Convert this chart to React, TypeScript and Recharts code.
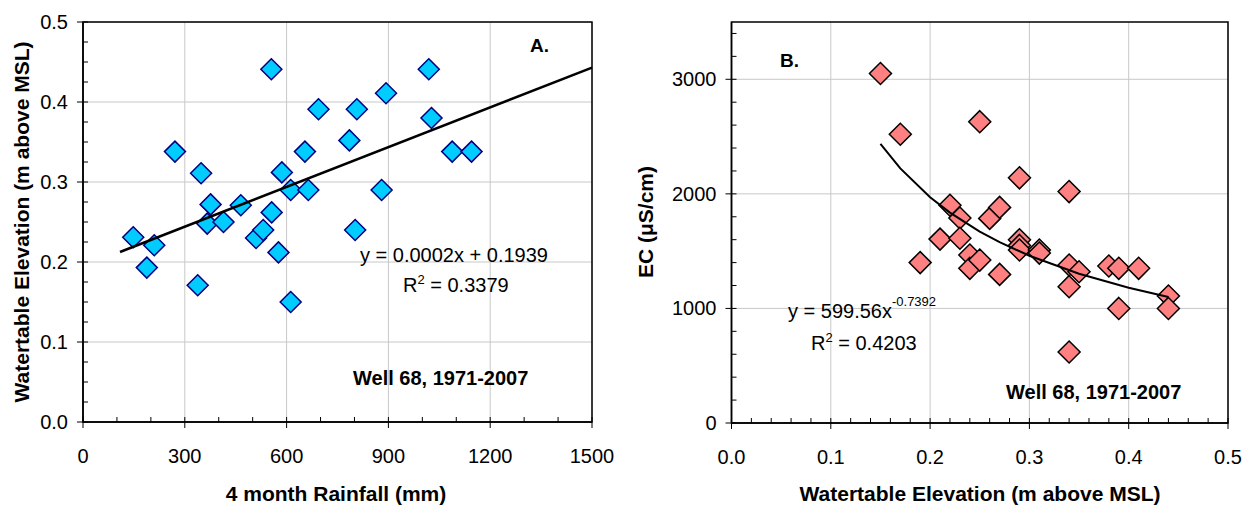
import React from 'react';
import { ScatterChart, Scatter, XAxis, YAxis, CartesianGrid, ReferenceArea } from 'recharts';

// Panel A: 4 month rainfall (mm) vs watertable elevation (m above MSL)
const rainfallA = [148, 210, 188, 271, 338, 348, 376, 366, 414, 465, 510, 531, 555, 556, 576, 586, 612, 612, 654, 664, 694, 785, 802, 807, 880, 893, 1019, 1027, 1088, 1145];
const elevationA = [0.231, 0.221, 0.193, 0.338, 0.171, 0.311, 0.272, 0.248, 0.25, 0.271, 0.23, 0.24, 0.441, 0.262, 0.212, 0.312, 0.29, 0.15, 0.338, 0.29, 0.391, 0.352, 0.24, 0.391, 0.29, 0.411, 0.441, 0.38, 0.338, 0.338];
const trendAX = [109, 1500];
const trendAY = [0.2125, 0.443];

// Panel B: watertable elevation vs EC (uS/cm)
const elevationB = [0.15, 0.17, 0.19, 0.21, 0.22, 0.23, 0.23, 0.24, 0.24, 0.25, 0.25, 0.26, 0.27, 0.27, 0.29, 0.29, 0.29, 0.29, 0.31, 0.31, 0.34, 0.34, 0.34, 0.34, 0.35, 0.38, 0.39, 0.41, 0.39, 0.44, 0.44];
const ecB = [3050, 2520, 1400, 1605, 1900, 1790, 1612, 1466, 1350, 1422, 2630, 1786, 1882, 1297, 2140, 1600, 1550, 1510, 1510, 1483, 2020, 1379, 1190, 620, 1320, 1370, 1350, 1350, 1000, 1108, 1000];
const trendBX = [0.15, 0.17, 0.2, 0.22, 0.25, 0.27, 0.3, 0.35, 0.4, 0.44];
const trendBY = [2437, 2222, 1970, 1836, 1670, 1578, 1460, 1303, 1180, 1100];

// tick values (minor + major)
const ticksAX = [0, 100, 200, 300, 400, 500, 600, 700, 800, 900, 1000, 1100, 1200, 1300, 1400, 1500];
const majorAX = [0, 300, 600, 900, 1200, 1500];
const ticksAY = [0, 0.025, 0.05, 0.075, 0.1, 0.125, 0.15, 0.175, 0.2, 0.225, 0.25, 0.275, 0.3, 0.325, 0.35, 0.375, 0.4, 0.425, 0.45, 0.475, 0.5];
const majorAY = [0, 0.1, 0.2, 0.3, 0.4, 0.5];
const ticksBX = [0, 0.02, 0.04, 0.06, 0.08, 0.1, 0.12, 0.14, 0.16, 0.18, 0.2, 0.22, 0.24, 0.26, 0.28, 0.3, 0.32, 0.34, 0.36, 0.38, 0.4, 0.42, 0.44, 0.46, 0.48, 0.5];
const majorBX = [0, 0.1, 0.2, 0.3, 0.4, 0.5];
const ticksBY = [0, 200, 400, 600, 800, 1000, 1200, 1400, 1600, 1800, 2000, 2200, 2400, 2600, 2800, 3000, 3200, 3400];
const majorBY = [0, 1000, 2000, 3000];

const dataA = rainfallA.map((x, i) => ({ x, y: elevationA[i] }));
const lineA = trendAX.map((x, i) => ({ x, y: trendAY[i] }));
const dataB = elevationB.map((x, i) => ({ x, y: ecB[i] }));
const lineB = trendBX.map((x, i) => ({ x, y: trendBY[i] }));

const FONT = "'Liberation Sans', Arial, sans-serif";
const GRID = '#c8c8c8';

const isIn = (list: number[], v: number) => list.some(m => Math.abs(m - v) < 1e-9);

const makeXTick = (majors: number[], fmt: (v: number) => string) => (props: any) => {
  const { x, y, payload } = props;
  const major = isIn(majors, payload.value);
  return (
    <g>
      <line x1={x} x2={x} y1={y - 5} y2={major ? y + 6 : y} stroke="#000" strokeWidth={1} />
      {major && (
        <text x={x} y={y + 41} textAnchor="middle" fontSize={20} fill="#000">{fmt(payload.value)}</text>
      )}
    </g>
  );
};

const makeYTick = (majors: number[], fmt: (v: number) => string) => (props: any) => {
  const { x, y, payload } = props;
  const major = isIn(majors, payload.value);
  return (
    <g>
      <line x1={major ? x - 6 : x} x2={x + 5} y1={y} y2={y} stroke="#000" strokeWidth={1} />
      {major && (
        <text x={x - 15} y={y + 7} textAnchor="end" fontSize={20} fill="#000">{fmt(payload.value)}</text>
      )}
    </g>
  );
};

const diamond = (fill: string, stroke: string, r: number) => (props: any) => {
  const { cx, cy } = props;
  return (
    <polygon
      points={`${cx},${cy - r} ${cx + r},${cy} ${cx},${cy + r} ${cx - r},${cy}`}
      fill={fill}
      stroke={stroke}
      strokeWidth={1.5}
    />
  );
};

const noDot = () => <g />;

export default function App() {
  return (
    <div style={{ position: 'absolute', left: 0, top: 0, width: 1250, height: 507, background: '#fff', fontFamily: FONT }}>
      {/* Panel A */}
      <div style={{ position: 'absolute', left: 0, top: 0 }}>
        <ScatterChart width={620} height={507} margin={{ top: 22, right: 28, bottom: 0, left: 0 }}>
          <CartesianGrid stroke={GRID} strokeWidth={1} verticalValues={majorAX} horizontalValues={majorAY} />
          <XAxis type="number" dataKey="x" domain={[0, 1500]} ticks={ticksAX} interval={0} height={85}
            tickSize={0} tickMargin={0} tickLine={false} axisLine={{ stroke: '#000', strokeWidth: 1.5 }}
            tick={makeXTick(majorAX, v => String(v))} />
          <YAxis type="number" dataKey="y" domain={[0, 0.5]} ticks={ticksAY} interval={0} width={83}
            tickSize={0} tickMargin={0} tickLine={false} axisLine={{ stroke: '#000', strokeWidth: 1.5 }}
            tick={makeYTick(majorAY, v => v.toFixed(1))} />
          <ReferenceArea x1={0} x2={1500} y1={0} y2={0.5} fill="none" stroke="#000" strokeWidth={1.5} />
          <Scatter data={dataA} shape={diamond('#00CCFF', '#000080', 10.5)} isAnimationActive={false} />
          <Scatter data={lineA} shape={noDot} line={{ stroke: '#000', strokeWidth: 2.5 }} lineType="joint" isAnimationActive={false} />
        </ScatterChart>
      </div>

      {/* Panel B */}
      <div style={{ position: 'absolute', left: 620, top: 0 }}>
        <ScatterChart width={630} height={507} margin={{ top: 22, right: 22, bottom: 0, left: 0 }}>
          <CartesianGrid stroke={GRID} strokeWidth={1} verticalValues={majorBX} horizontalValues={majorBY} />
          <XAxis type="number" dataKey="x" domain={[0, 0.5]} ticks={ticksBX} interval={0} height={84}
            tickSize={0} tickMargin={0} tickLine={false} axisLine={{ stroke: '#000', strokeWidth: 1.5 }}
            tick={makeXTick(majorBX, v => v.toFixed(1))} />
          <YAxis type="number" dataKey="y" domain={[0, 3500]} ticks={ticksBY} interval={0} width={111.5}
            tickSize={0} tickMargin={0} tickLine={false} axisLine={{ stroke: '#000', strokeWidth: 1.5 }}
            tick={makeYTick(majorBY, v => String(v))} />
          <ReferenceArea x1={0} x2={0.5} y1={0} y2={3500} fill="none" stroke="#000" strokeWidth={1.5} />
          <Scatter data={dataB} shape={diamond('#FF8080', '#000', 11)} isAnimationActive={false} />
          <Scatter data={lineB} shape={noDot} line={{ stroke: '#000', strokeWidth: 2 }} lineType="joint" isAnimationActive={false} />
        </ScatterChart>
      </div>

      {/* titles and annotations */}
      <svg width={1250} height={507} style={{ position: 'absolute', left: 0, top: 0, pointerEvents: 'none' }}>
        <g fill="#000" fontFamily={FONT}>
          <text x={336} y={501} textAnchor="middle" fontSize={21} fontWeight="bold">4 month Rainfall (mm)</text>
          <text transform="translate(29,222) rotate(-90)" textAnchor="middle" fontSize={21} fontWeight="bold">Watertable Elevation (m above MSL)</text>
          <text x={980} y={501} textAnchor="middle" fontSize={21} fontWeight="bold">Watertable Elevation (m above MSL)</text>
          <text transform="translate(653,222) rotate(-90)" textAnchor="middle" fontSize={21} fontWeight="bold">EC (μS/cm)</text>

          <text x={530} y={52} fontSize={19} fontWeight="bold">A.</text>
          <text x={360} y={262} fontSize={20}>y = 0.0002x + 0.1939</text>
          <text x={403} y={292} fontSize={20}>R<tspan fontSize={13} dy={-8}>2</tspan><tspan dy={8}> = 0.3379</tspan></text>
          <text x={353} y={385} fontSize={20} fontWeight="bold">Well 68, 1971-2007</text>

          <text x={780} y={67} fontSize={19} fontWeight="bold">B.</text>
          <text x={788} y={318} fontSize={20}>y = 599.56x<tspan fontSize={13} dy={-12}>-0.7392</tspan></text>
          <text x={811} y={350} fontSize={20}>R<tspan fontSize={13} dy={-8}>2</tspan><tspan dy={8}> = 0.4203</tspan></text>
          <text x={1006} y={399} fontSize={20} fontWeight="bold">Well 68, 1971-2007</text>
        </g>
      </svg>
    </div>
  );
}
